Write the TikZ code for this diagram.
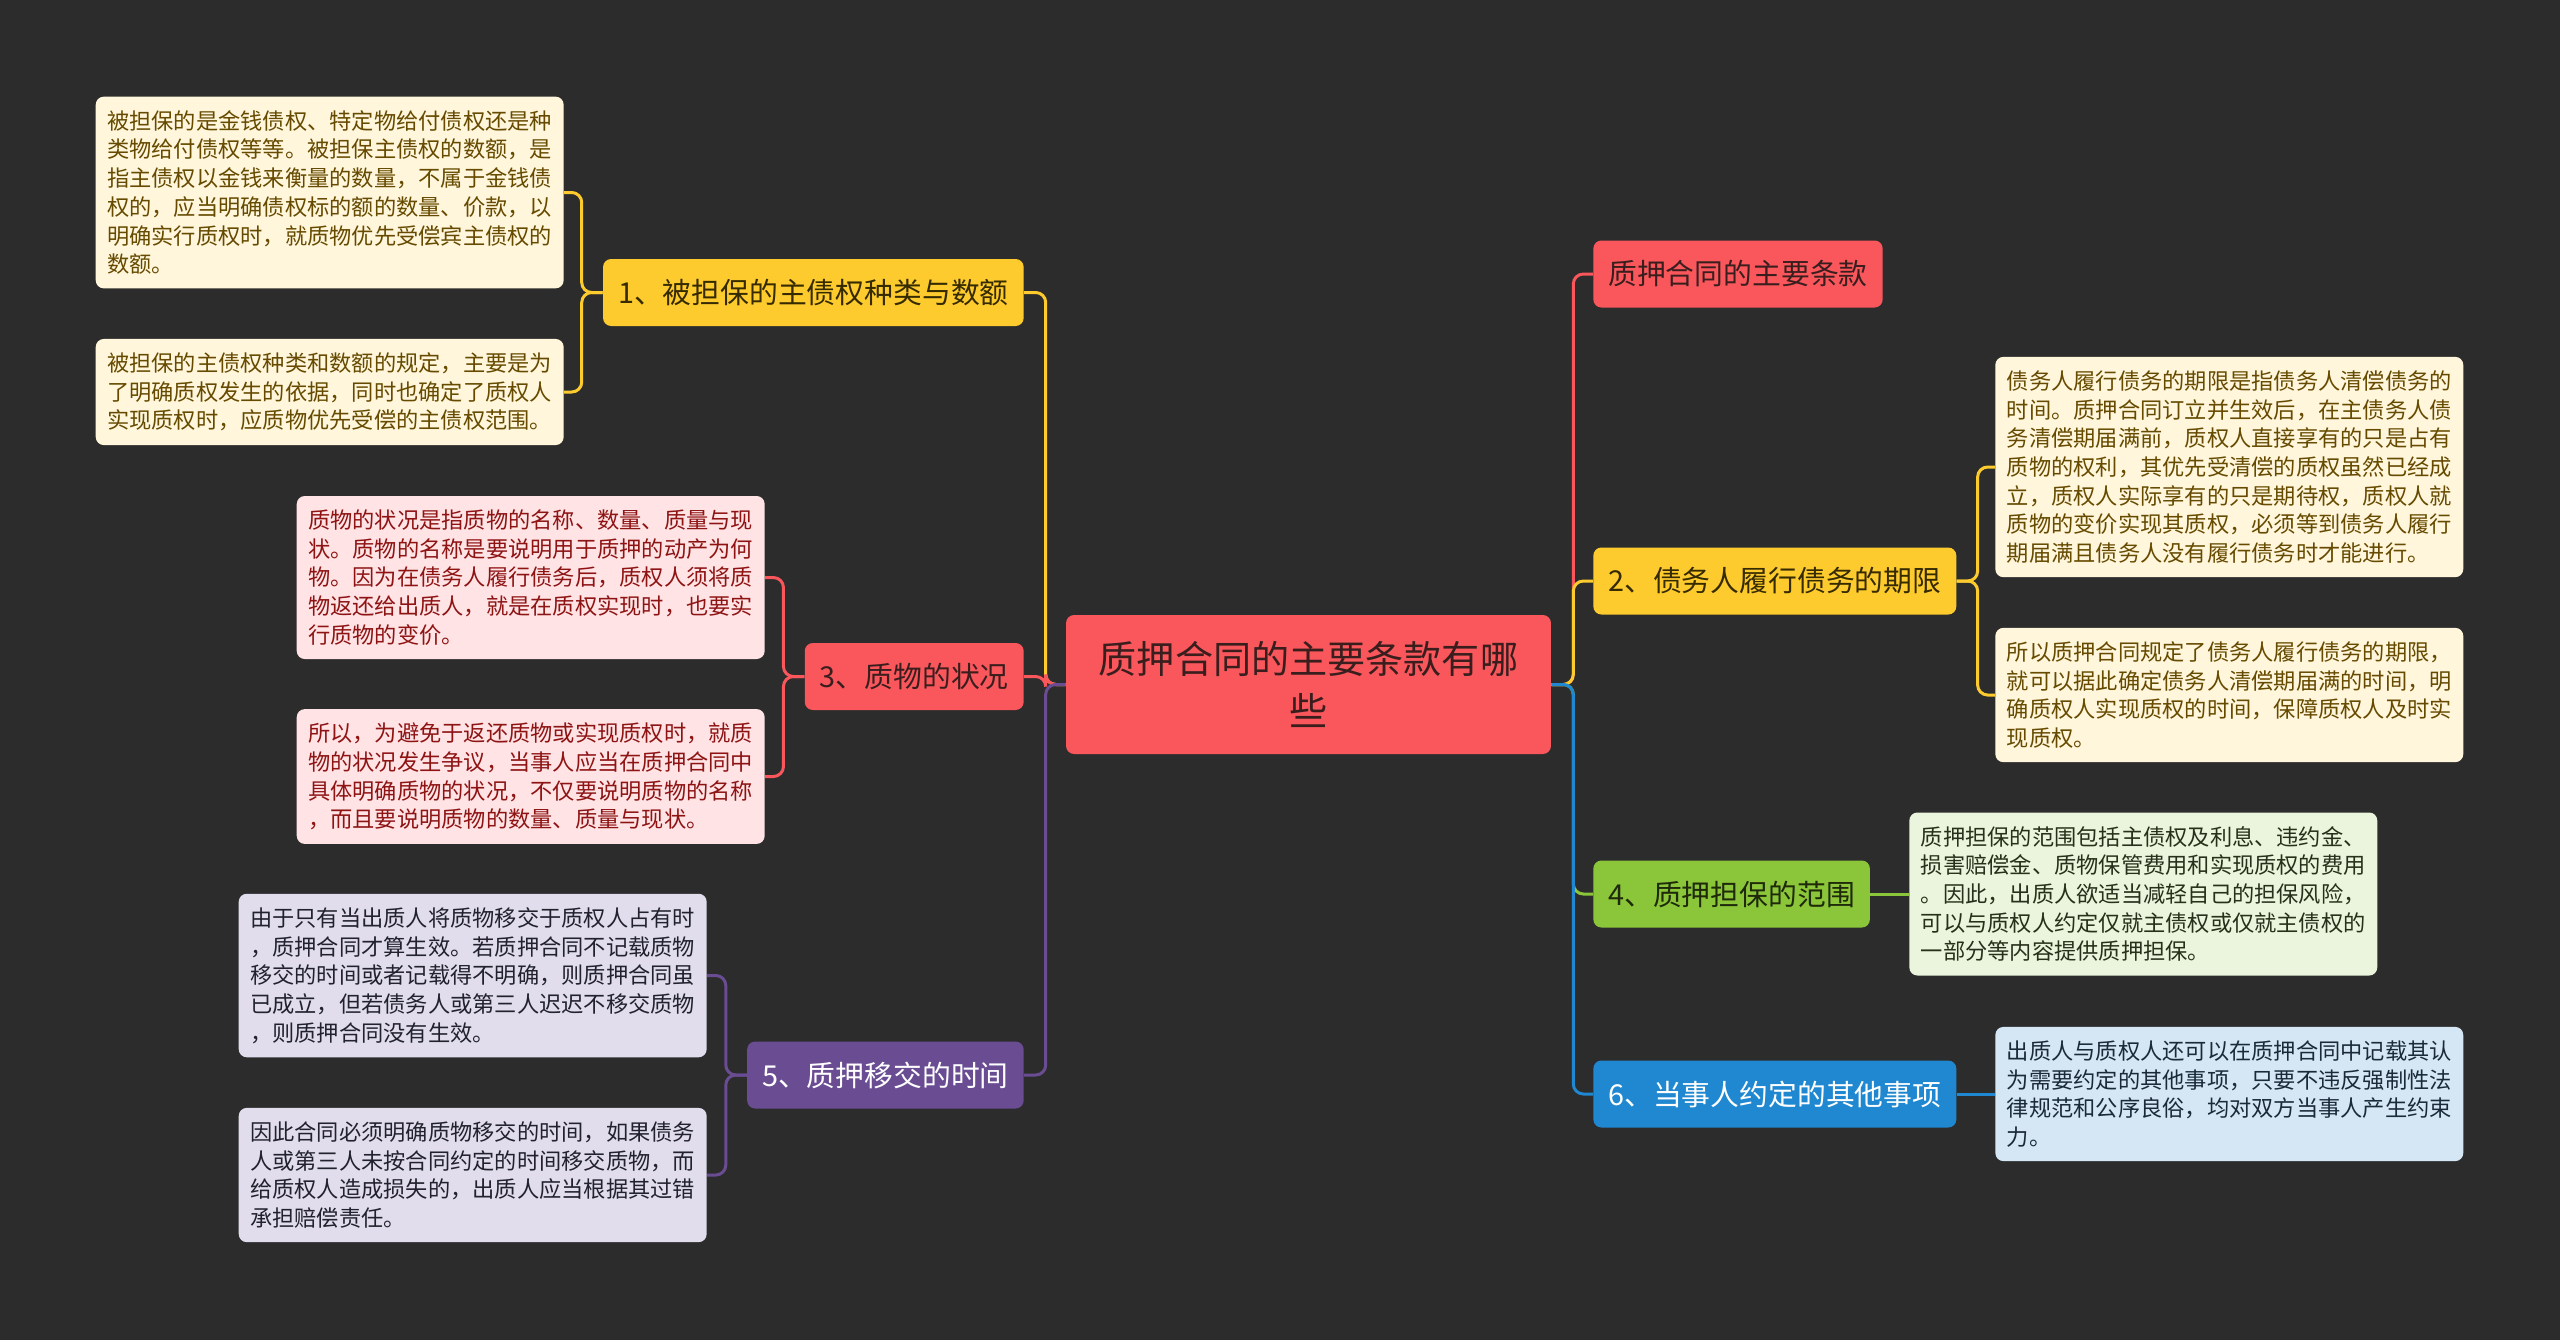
\documentclass[tikz,border=0pt]{standalone}
\usepackage{fontspec}
\setmainfont{Noto Sans CJK SC}
\usepackage{tikz}
\definecolor{PageBg}{HTML}{2C2C2C}
\definecolor{MapRed}{HTML}{FA575C}
\definecolor{MapRedText}{HTML}{3A1E1E}
\definecolor{MapYellow}{HTML}{FECB2F}
\definecolor{MapYellowText}{HTML}{352A00}
\definecolor{MapPurple}{HTML}{6A4C93}
\definecolor{MapGreen}{HTML}{8BC63A}
\definecolor{MapGreenText}{HTML}{1E2A0A}
\definecolor{MapBlue}{HTML}{1F88D0}
\definecolor{NoteYellow}{HTML}{FFF6DB}
\definecolor{NoteYellowText}{HTML}{664A00}
\definecolor{NoteRed}{HTML}{FFE3E5}
\definecolor{NoteRedText}{HTML}{8E1414}
\definecolor{NotePurple}{HTML}{E1DDEC}
\definecolor{NotePurpleText}{HTML}{22222E}
\definecolor{NoteGreen}{HTML}{EBF4DC}
\definecolor{NoteGreenText}{HTML}{26301A}
\definecolor{NoteBlue}{HTML}{D5E7F4}
\definecolor{NoteBlueText}{HTML}{1A2A38}
\tikzset{
  pledge root/.style={
    rounded corners=0.16cm,
    minimum width=9.7cm,
    minimum height=2.78cm,
    align=center,
    font=\fontsize{21.7}{29.6}\selectfont
  },
  pledge branch/.style={
    rounded corners=0.16cm,
    inner xsep=0.3cm,
    minimum height=1.34cm,
    font=\fontsize{16.4}{20}\selectfont
  },
  pledge note/.style={
    rounded corners=0.16cm,
    text width=8.9cm,
    inner xsep=0.23cm,
    inner ysep=0.275cm,
    align=left,
    font=\fontsize{12.66}{16.33}\selectfont
  },
  pledge link/.style={line width=1.7pt, rounded corners=0.2cm}
}

\begin{document}
\begin{tikzpicture}[x=0.02cm, y=-0.02cm]
  \fill[PageBg] (0,0) rectangle (2560,1340);
  \useasboundingbox (0,0) rectangle (2560,1340);

  \node[pledge root, fill=MapRed, text=MapRedText] (root) at (1308.5,684.5)
    {质押合同的主要条款有哪\\些};

  % left side
  \node[pledge branch, fill=MapYellow, text=MapYellowText, anchor=east] (b1)
    at (1024,292.5) {1、被担保的主债权种类与数额};
  \node[pledge branch, fill=MapRed, text=MapRedText, anchor=east] (b3)
    at (1024,676.5) {3、质物的状况};
  \node[pledge branch, fill=MapPurple, text=white, anchor=east] (b5)
    at (1024,1075) {5、质押移交的时间};

  \node[pledge note, fill=NoteYellow, text=NoteYellowText, anchor=east] (n1a)
    at (564,192.5)
    {被担保的是金钱债权、特定物给付债权还是种\\
     类物给付债权等等。被担保主债权的数额，是\\
     指主债权以金钱来衡量的数量，不属于金钱债\\
     权的，应当明确债权标的额的数量、价款，以\\
     明确实行质权时，就质物优先受偿宾主债权的\\
     数额。};
  \node[pledge note, fill=NoteYellow, text=NoteYellowText, anchor=east] (n1b)
    at (564,392)
    {被担保的主债权种类和数额的规定，主要是为\\
     了明确质权发生的依据，同时也确定了质权人\\
     实现质权时，应质物优先受偿的主债权范围。};
  \node[pledge note, fill=NoteRed, text=NoteRedText, anchor=east] (n3a)
    at (765,577.5)
    {质物的状况是指质物的名称、数量、质量与现\\
     状。质物的名称是要说明用于质押的动产为何\\
     物。因为在债务人履行债务后，质权人须将质\\
     物返还给出质人，就是在质权实现时，也要实\\
     行质物的变价。};
  \node[pledge note, fill=NoteRed, text=NoteRedText, anchor=east] (n3b)
    at (765,776.5)
    {所以，为避免于返还质物或实现质权时，就质\\
     物的状况发生争议，当事人应当在质押合同中\\
     具体明确质物的状况，不仅要说明质物的名称\\
     ，而且要说明质物的数量、质量与现状。};
  \node[pledge note, fill=NotePurple, text=NotePurpleText, anchor=east] (n5a)
    at (707,975.5)
    {由于只有当出质人将质物移交于质权人占有时\\
     ，质押合同才算生效。若质押合同不记载质物\\
     移交的时间或者记载得不明确，则质押合同虽\\
     已成立，但若债务人或第三人迟迟不移交质物\\
     ，则质押合同没有生效。};
  \node[pledge note, fill=NotePurple, text=NotePurpleText, anchor=east] (n5b)
    at (707,1175)
    {因此合同必须明确质物移交的时间，如果债务\\
     人或第三人未按合同约定的时间移交质物，而\\
     给质权人造成损失的，出质人应当根据其过错\\
     承担赔偿责任。};

  % right side
  \node[pledge branch, fill=MapRed, text=MapRedText, anchor=west] (r1)
    at (1593,274) {质押合同的主要条款};
  \node[pledge branch, fill=MapYellow, text=MapYellowText, anchor=west] (b2)
    at (1593,581) {2、债务人履行债务的期限};
  \node[pledge branch, fill=MapGreen, text=MapGreenText, anchor=west] (b4)
    at (1593,894) {4、质押担保的范围};
  \node[pledge branch, fill=MapBlue, text=white, anchor=west] (b6)
    at (1593,1094) {6、当事人约定的其他事项};

  \node[pledge note, fill=NoteYellow, text=NoteYellowText, anchor=west] (n2a)
    at (1995,467)
    {债务人履行债务的期限是指债务人清偿债务的\\
     时间。质押合同订立并生效后，在主债务人债\\
     务清偿期届满前，质权人直接享有的只是占有\\
     质物的权利，其优先受清偿的质权虽然已经成\\
     立，质权人实际享有的只是期待权，质权人就\\
     质物的变价实现其质权，必须等到债务人履行\\
     期届满且债务人没有履行债务时才能进行。};
  \node[pledge note, fill=NoteYellow, text=NoteYellowText, anchor=west] (n2b)
    at (1995,695)
    {所以质押合同规定了债务人履行债务的期限，\\
     就可以据此确定债务人清偿期届满的时间，明\\
     确质权人实现质权的时间，保障质权人及时实\\
     现质权。};
  \node[pledge note, fill=NoteGreen, text=NoteGreenText, anchor=west] (n4a)
    at (1909,894)
    {质押担保的范围包括主债权及利息、违约金、\\
     损害赔偿金、质物保管费用和实现质权的费用\\
     。因此，出质人欲适当减轻自己的担保风险，\\
     可以与质权人约定仅就主债权或仅就主债权的\\
     一部分等内容提供质押担保。};
  \node[pledge note, fill=NoteBlue, text=NoteBlueText, anchor=west] (n6a)
    at (1995,1094)
    {出质人与质权人还可以在质押合同中记载其认\\
     为需要约定的其他事项，只要不违反强制性法\\
     律规范和公序良俗，均对双方当事人产生约束\\
     力。};

  % root links
  \draw[pledge link, MapYellow] (root.west) -- ++(-20,0) |- (b1.east);
  \draw[pledge link, MapRed] (root.west) -- ++(-20,0) |- (b3.east);
  \draw[pledge link, MapPurple] (root.west) -- ++(-20,0) |- (b5.east);
  \draw[pledge link, MapRed] (root.east) -- ++(22,0) |- (r1.west);
  \draw[pledge link, MapYellow] (root.east) -- ++(22,0) |- (b2.west);
  \draw[pledge link, MapGreen] (root.east) -- ++(22,0) |- (b4.west);
  \draw[pledge link, MapBlue] (root.east) -- ++(22,0) |- (b6.west);

  % note links
  \draw[pledge link, MapYellow] (b1.west) -- ++(-21,0) |- (n1a.east);
  \draw[pledge link, MapYellow] (b1.west) -- ++(-21,0) |- (n1b.east);
  \draw[pledge link, MapRed] (b3.west) -- ++(-21,0) |- (n3a.east);
  \draw[pledge link, MapRed] (b3.west) -- ++(-21,0) |- (n3b.east);
  \draw[pledge link, MapPurple] (b5.west) -- ++(-21,0) |- (n5a.east);
  \draw[pledge link, MapPurple] (b5.west) -- ++(-21,0) |- (n5b.east);
  \draw[pledge link, MapYellow] (b2.east) -- ++(21,0) |- (n2a.west);
  \draw[pledge link, MapYellow] (b2.east) -- ++(21,0) |- (n2b.west);
  \draw[pledge link, MapGreen] (b4.east) -- (n4a.west);
  \draw[pledge link, MapBlue] (b6.east) -- (n6a.west);
\end{tikzpicture}
\end{document}
